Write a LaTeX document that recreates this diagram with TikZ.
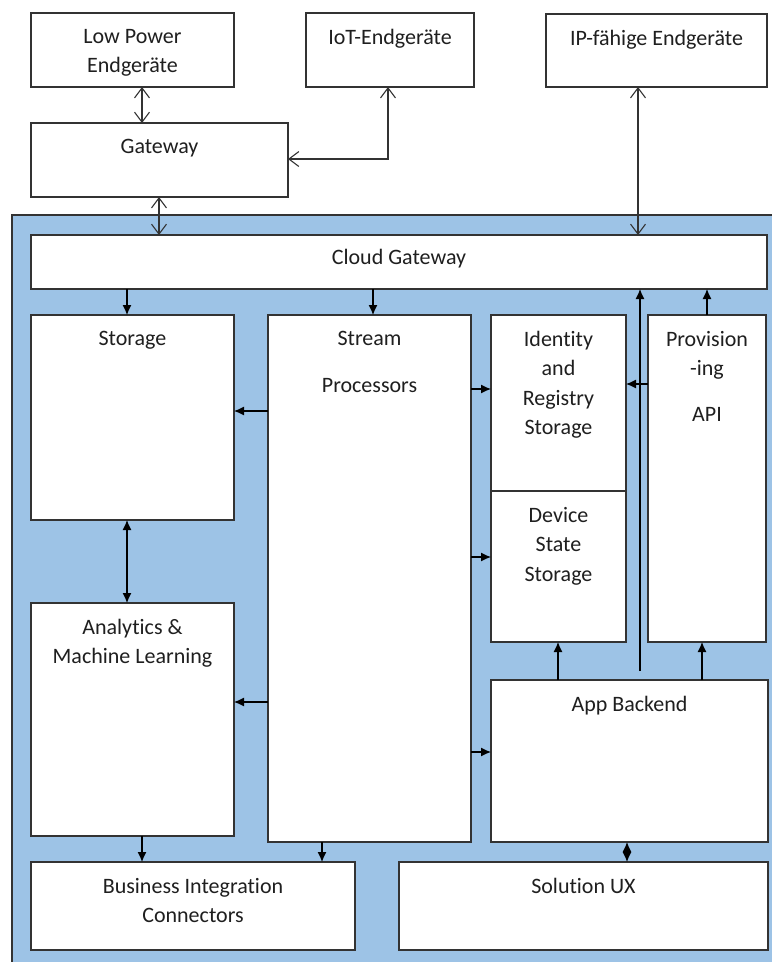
\documentclass[tikz,border=0pt]{standalone}
\usepackage{fontspec}
\setmainfont{Carlito}[Ligatures=NoCommon]
\usetikzlibrary{arrows.meta}
\definecolor{cloudblue}{HTML}{9DC3E6}
\definecolor{edge}{HTML}{333333}
\definecolor{ink}{HTML}{1F1F1F}

\begin{document}
\begin{tikzpicture}[x=1pt,y=-1pt,
  box/.style={draw=edge, line width=1.4pt, fill=white, rectangle, inner sep=0pt,
              outer sep=0pt, anchor=north west},
  lbl/.style={anchor=north, yshift=-16pt, align=center, inner sep=0pt, text=ink,
              font=\fontsize{22}{29.5}\selectfont},
  flow/.style={draw=black, line width=1.2pt, -{Latex[length=10pt,width=9pt]}},
  both/.style={draw=black, line width=1.2pt, {Latex[length=10pt,width=9pt]}-{Latex[length=10pt,width=9pt]}},
  link/.style={draw=edge, line width=1.1pt,
               {Straight Barb[length=10pt,width=15pt]}-{Straight Barb[length=10pt,width=15pt]}}]

\useasboundingbox (0,0) rectangle (772,962);

% cloud area
\fill[cloudblue] (12,215) rectangle (772,962);
\draw[edge, line width=1.4pt] (12,962) -- (12,215) -- (772,215);

% devices and field gateway
\node[box, minimum width=203pt, minimum height=74pt, label={[lbl]north:Low Power\\Endgeräte}] (lp) at (31,13) {};
\node[box, minimum width=168pt, minimum height=74pt, label={[lbl]north:IoT-Endgeräte}] (iot) at (306,13) {};
\node[box, minimum width=221pt, minimum height=73pt, label={[lbl]north:IP-fähige Endgeräte}] (ip) at (546,14) {};
\node[box, minimum width=257pt, minimum height=74pt, label={[lbl]north:Gateway}] (gw) at (31,123) {};

% cloud services
\node[box, minimum width=736pt, minimum height=54pt, label={[lbl, yshift=2pt]north:Cloud Gateway}] (cgw) at (31,235) {};
\node[box, minimum width=203pt, minimum height=205pt, label={[lbl]north:Storage}] (sto) at (31,315) {};
\node[box, minimum width=203pt, minimum height=527pt, label={[lbl]north:Stream\\[17.5pt]Processors}] (str) at (268,315) {};
\node[box, minimum width=135pt, minimum height=176pt, label={[lbl]north:Identity\\and\\Registry\\Storage}] (idr) at (491,315) {};
\node[box, minimum width=135pt, minimum height=151pt, label={[lbl]north:Device\\State\\Storage}] (dev) at (491,491) {};
\node[box, minimum width=118pt, minimum height=327pt, label={[lbl]north:Provision\\-ing\\[16pt]API}] (prov) at (648,315) {};
\node[box, minimum width=203pt, minimum height=233pt, label={[lbl]north:Analytics \&\\Machine Learning}] (ana) at (31,603) {};
\node[box, minimum width=277pt, minimum height=162pt, label={[lbl]north:App Backend}] (app) at (491,680) {};
\node[box, minimum width=324pt, minimum height=88pt, label={[lbl]north:Business Integration\\Connectors}] (bic) at (31,862) {};
\node[box, minimum width=369pt, minimum height=88pt, label={[lbl]north:Solution UX}] (ux) at (399,862) {};

% guide coordinates for connector positions
\coordinate (xlp) at (142,0);
\coordinate (xiot) at (388,159);
\coordinate (xgw) at (159,0);
\coordinate (xip) at (638,0);
\coordinate (xsto) at (127,0);
\coordinate (xstr) at (373,0);
\coordinate (ysto) at (0,411);
\coordinate (yana) at (0,702);
\coordinate (yidr) at (0,389);
\coordinate (ydev) at (0,557);
\coordinate (yapp) at (0,752);
\coordinate (yprov) at (0,384);
\coordinate (xprov) at (707,0);
\coordinate (vbase) at (640,671);
\coordinate (xdev) at (558,0);
\coordinate (xpu) at (702,0);
\coordinate (xbic) at (142,0);
\coordinate (xsb) at (322,0);
\coordinate (xux) at (627,0);

% links outside the cloud
\draw[link] (lp.south -| xlp) -- (gw.north -| xlp);
\draw[link] (iot.south -| xiot) -- (xiot) -- (gw.east |- xiot);
\draw[link] (gw.south -| xgw) -- (cgw.north -| xgw);
\draw[link] (ip.south -| xip) -- (cgw.north -| xip);

% data flow inside the cloud
\draw[flow] (cgw.south -| xsto) -- (sto.north -| xsto);
\draw[flow] (cgw.south -| xstr) -- (str.north -| xstr);
\draw[flow] (str.west |- ysto) -- (sto.east |- ysto);
\draw[flow] (str.west |- yana) -- (ana.east |- yana);
\draw[flow] (str.east |- yidr) -- (idr.west |- yidr);
\draw[flow] (str.east |- ydev) -- (dev.west |- ydev);
\draw[flow] (str.east |- yapp) -- (app.west |- yapp);
\draw[both] (sto.south -| xsto) -- (ana.north -| xsto);
\draw[flow] (vbase) -- (cgw.south -| vbase);
\draw[flow] (prov.west |- yprov) -- (idr.east |- yprov);
\draw[flow] (prov.north -| xprov) -- (cgw.south -| xprov);
\draw[flow] (app.north -| xdev) -- (dev.south -| xdev);
\draw[flow] (app.north -| xpu) -- (prov.south -| xpu);
\draw[flow] (ana.south -| xbic) -- (bic.north -| xbic);
\draw[flow] (str.south -| xsb) -- (bic.north -| xsb);
\draw[both] (app.south -| xux) -- (ux.north -| xux);
\end{tikzpicture}
\end{document}
